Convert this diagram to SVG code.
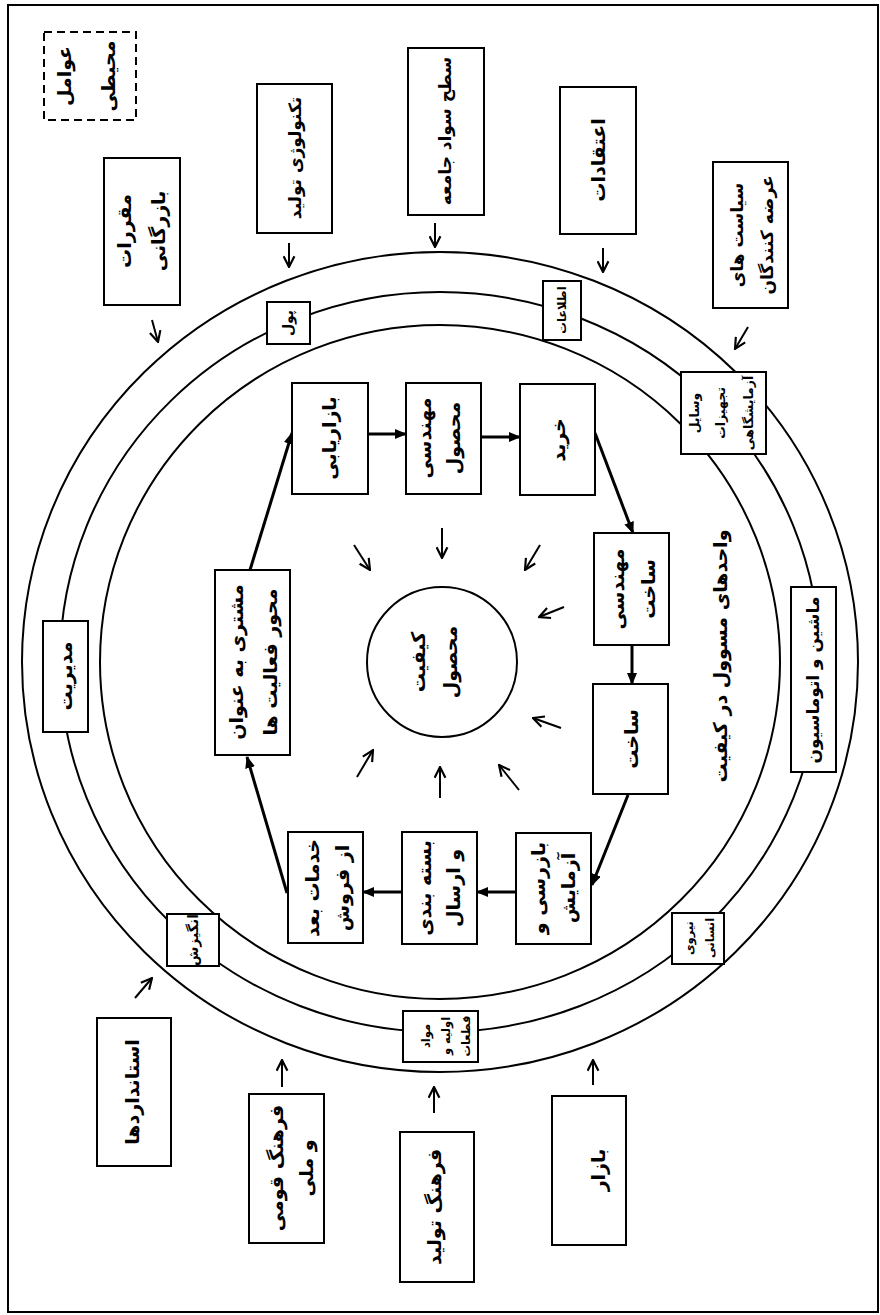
<svg xmlns="http://www.w3.org/2000/svg" width="880" height="1315" viewBox="0 0 880 1315">
<style>
.bx{fill:#fff;stroke:#000;stroke-width:2}
.ring{fill:none;stroke:#000;stroke-width:2}
.t{font-family:"DejaVu Sans",sans-serif;font-weight:bold;font-size:19px;text-anchor:middle;dominant-baseline:central;fill:#000}
.m{font-size:17px}
.s{font-size:14px}
.s2{font-size:12.5px}
.xs{font-size:11.5px}
.oa{fill:none;stroke:#000;stroke-width:2;marker-end:url(#open)}
.fa{fill:none;stroke:#000;stroke-width:3;marker-end:url(#fill)}
</style>
<defs>
<marker id="open" viewBox="0 0 12 12" refX="11" refY="6" markerWidth="13" markerHeight="13" markerUnits="userSpaceOnUse" orient="auto">
<path d="M1,1 L11,6 L1,11" fill="none" stroke="#000" stroke-width="2"/>
</marker>
<marker id="fill" viewBox="0 0 12 10" refX="11" refY="5" markerWidth="12" markerHeight="10" markerUnits="userSpaceOnUse" orient="auto">
<path d="M0,0 L12,5 L0,10 z" fill="#000"/>
</marker>
</defs>
<rect x="8" y="5" width="870" height="1307" fill="#fff" stroke="#000" stroke-width="2"/>
<g id="rings">
<ellipse class="ring" cx="440" cy="662" rx="418" ry="410"/>
<ellipse class="ring" cx="440" cy="662" rx="380" ry="370"/>
<ellipse class="ring" cx="440" cy="662" rx="340" ry="337"/>
</g>
<g id="connectors">
<line class="oa" x1="152" y1="320" x2="158" y2="342"/>
<line class="oa" x1="289" y1="243" x2="289" y2="267"/>
<line class="oa" x1="435" y1="223" x2="435" y2="247"/>
<line class="oa" x1="603" y1="248" x2="603" y2="272"/>
<line class="oa" x1="748" y1="327" x2="735" y2="349"/>
<line class="oa" x1="135" y1="998" x2="152" y2="978"/>
<line class="oa" x1="282" y1="1087" x2="282" y2="1060"/>
<line class="oa" x1="434" y1="1113" x2="434" y2="1087"/>
<line class="oa" x1="593" y1="1085" x2="593" y2="1060"/>
<line class="oa" x1="354" y1="545" x2="370" y2="570"/>
<line class="oa" x1="442" y1="528" x2="442" y2="558"/>
<line class="oa" x1="540" y1="545" x2="525" y2="570"/>
<line class="oa" x1="564" y1="607" x2="539" y2="617"/>
<line class="oa" x1="561" y1="728" x2="533" y2="718"/>
<line class="oa" x1="519" y1="790" x2="499" y2="765"/>
<line class="oa" x1="440" y1="798" x2="440" y2="767"/>
<line class="oa" x1="357" y1="777" x2="373" y2="750"/>
<line class="fa" x1="368" y1="434" x2="406" y2="434"/>
<line class="fa" x1="481" y1="437" x2="520" y2="437"/>
<line class="fa" x1="595" y1="433" x2="633" y2="533"/>
<line class="fa" x1="632" y1="645" x2="632" y2="684"/>
<line class="fa" x1="628" y1="795" x2="592" y2="885"/>
<line class="fa" x1="516" y1="892" x2="477" y2="892"/>
<line class="fa" x1="402" y1="892" x2="363" y2="892"/>
<line class="fa" x1="287" y1="893" x2="247" y2="757"/>
<line class="fa" x1="250" y1="570" x2="292" y2="433"/>
</g>
<g id="n-avamel"><rect x="44" y="32" width="92" height="88" fill="#fff" stroke="#000" stroke-width="2" stroke-dasharray="8,5"/>
<text class="t" transform="translate(64,76) rotate(-90)">عوامل</text>
<text class="t" transform="translate(108,76) rotate(-90)">محیطی</text></g>
<g id="n-moqararat"><rect class="bx" x="104" y="158" width="76" height="147"/>
<text class="t" transform="translate(124,231) rotate(-90)">مقررات</text>
<text class="t" transform="translate(158,231) rotate(-90)">بازرگانی</text></g>
<g id="n-technology"><rect class="bx" x="257" y="84" width="75" height="149"/>
<text class="t m" transform="translate(295,158) rotate(-90)">تکنولوژی تولید</text></g>
<g id="n-savad"><rect class="bx" x="408" y="48" width="76" height="167"/>
<text class="t m" transform="translate(445,131) rotate(-90)">سطح سواد جامعه</text></g>
<g id="n-eteqadat"><rect class="bx" x="560" y="87" width="76" height="147"/>
<text class="t" transform="translate(598,160) rotate(-90)">اعتقادات</text></g>
<g id="n-siasat"><rect class="bx" x="713" y="162" width="75" height="146"/>
<text class="t m" transform="translate(737,235) rotate(-90)">سیاست های</text>
<text class="t m" transform="translate(767,235) rotate(-90)">عرضه کنندگان</text></g>
<g id="n-pool"><rect class="bx" x="267" y="302" width="43" height="42"/>
<text class="t s" transform="translate(288,323) rotate(-90)">پول</text></g>
<g id="n-etelaat"><rect class="bx" x="543" y="281" width="38" height="59"/>
<text class="t xs" transform="translate(562,310) rotate(-90)">اطلاعات</text></g>
<g id="n-vasayel"><rect class="bx" x="681" y="372" width="85" height="82"/>
<text class="t s2" transform="translate(694,413) rotate(-90)">وسایل</text>
<text class="t s2" transform="translate(720,413) rotate(-90)">تجهیزات</text>
<text class="t s2" transform="translate(748,413) rotate(-90)">آزمایشگاهی</text></g>
<g id="n-bazaryabi"><rect class="bx" x="292" y="383" width="76" height="111"/>
<text class="t" transform="translate(329,438) rotate(-90)">بازاریابی</text></g>
<g id="n-mohandesi-mahsool"><rect class="bx" x="406" y="383" width="75" height="111"/>
<text class="t" transform="translate(424,438) rotate(-90)">مهندسی</text>
<text class="t" transform="translate(453,438) rotate(-90)">محصول</text></g>
<g id="n-kharid"><rect class="bx" x="520" y="384" width="75" height="111"/>
<text class="t" transform="translate(558,440) rotate(-90)">خرید</text></g>
<g id="n-mohandesi-sakht"><rect class="bx" x="594" y="533" width="75" height="112"/>
<text class="t" transform="translate(617,589) rotate(-90)">مهندسی</text>
<text class="t" transform="translate(648,589) rotate(-90)">ساخت</text></g>
<g id="n-sakht"><rect class="bx" x="593" y="684" width="75" height="110"/>
<text class="t" transform="translate(631,739) rotate(-90)">ساخت</text></g>
<g id="n-bazresi"><rect class="bx" x="516" y="833" width="75" height="111"/>
<text class="t" transform="translate(538,888) rotate(-90)">بازرسی و</text>
<text class="t" transform="translate(568,888) rotate(-90)">آزمایش</text></g>
<g id="n-bastebandi"><rect class="bx" x="402" y="832" width="75" height="112"/>
<text class="t" transform="translate(424,888) rotate(-90)">بسته بندی</text>
<text class="t" transform="translate(453,888) rotate(-90)">و ارسال</text></g>
<g id="n-khadamat"><rect class="bx" x="288" y="832" width="75" height="111"/>
<text class="t" transform="translate(312,888) rotate(-90)">خدمات بعد</text>
<text class="t" transform="translate(342,888) rotate(-90)">از فروش</text></g>
<g id="n-moshtari"><rect class="bx" x="215" y="570" width="75" height="185"/>
<text class="t" transform="translate(236,662) rotate(-90)">مشتری به عنوان</text>
<text class="t" transform="translate(270,662) rotate(-90)">محور فعالیت ها</text></g>
<g id="n-keyfiat"><circle cx="442" cy="662" r="75" fill="#fff" stroke="#000" stroke-width="2"/>
<text class="t" transform="translate(418,662) rotate(-90)">کیفیت</text>
<text class="t" transform="translate(450,662) rotate(-90)">محصول</text></g>
<g id="n-vahedha"><text class="t" transform="translate(720,656) rotate(-90)">واحدهای مسوول در کیفیت</text></g>
<g id="n-mashin"><rect class="bx" x="791" y="587" width="45" height="185"/>
<text class="t m" transform="translate(813,680) rotate(-90)">ماشین و اتوماسیون</text></g>
<g id="n-modiriat"><rect class="bx" x="43" y="621" width="45" height="111"/>
<text class="t" transform="translate(65,676) rotate(-90)">مدیریت</text></g>
<g id="n-angizesh"><rect class="bx" x="167" y="914" width="52" height="52"/>
<text class="t s" transform="translate(193,940) rotate(-90)">انگیزش</text></g>
<g id="n-niroo"><rect class="bx" x="672" y="913" width="52" height="51"/>
<text class="t xs" transform="translate(689,938) rotate(-90)">نیروی</text>
<text class="t xs" transform="translate(710,938) rotate(-90)">انسانی</text></g>
<g id="n-mavad"><rect class="bx" x="403" y="1011" width="75" height="51"/>
<text class="t xs" transform="translate(426,1036) rotate(-90)">مواد</text>
<text class="t xs" transform="translate(446,1036) rotate(-90)">اولیه و</text>
<text class="t xs" transform="translate(466,1036) rotate(-90)">قطعات</text></g>
<g id="n-standard"><rect class="bx" x="97" y="1018" width="74" height="148"/>
<text class="t" transform="translate(132,1092) rotate(-90)">استانداردها</text></g>
<g id="n-farhang-qowmi"><rect class="bx" x="249" y="1094" width="75" height="149"/>
<text class="t" transform="translate(276,1168) rotate(-90)">فرهنگ قومی</text>
<text class="t" transform="translate(306,1168) rotate(-90)">و ملی</text></g>
<g id="n-farhang-tolid"><rect class="bx" x="400" y="1132" width="74" height="150"/>
<text class="t" transform="translate(434,1207) rotate(-90)">فرهنگ تولید</text></g>
<g id="n-bazar"><rect class="bx" x="552" y="1096" width="74" height="149"/>
<text class="t" transform="translate(598,1170) rotate(-90)">بازار</text></g>
</svg>
